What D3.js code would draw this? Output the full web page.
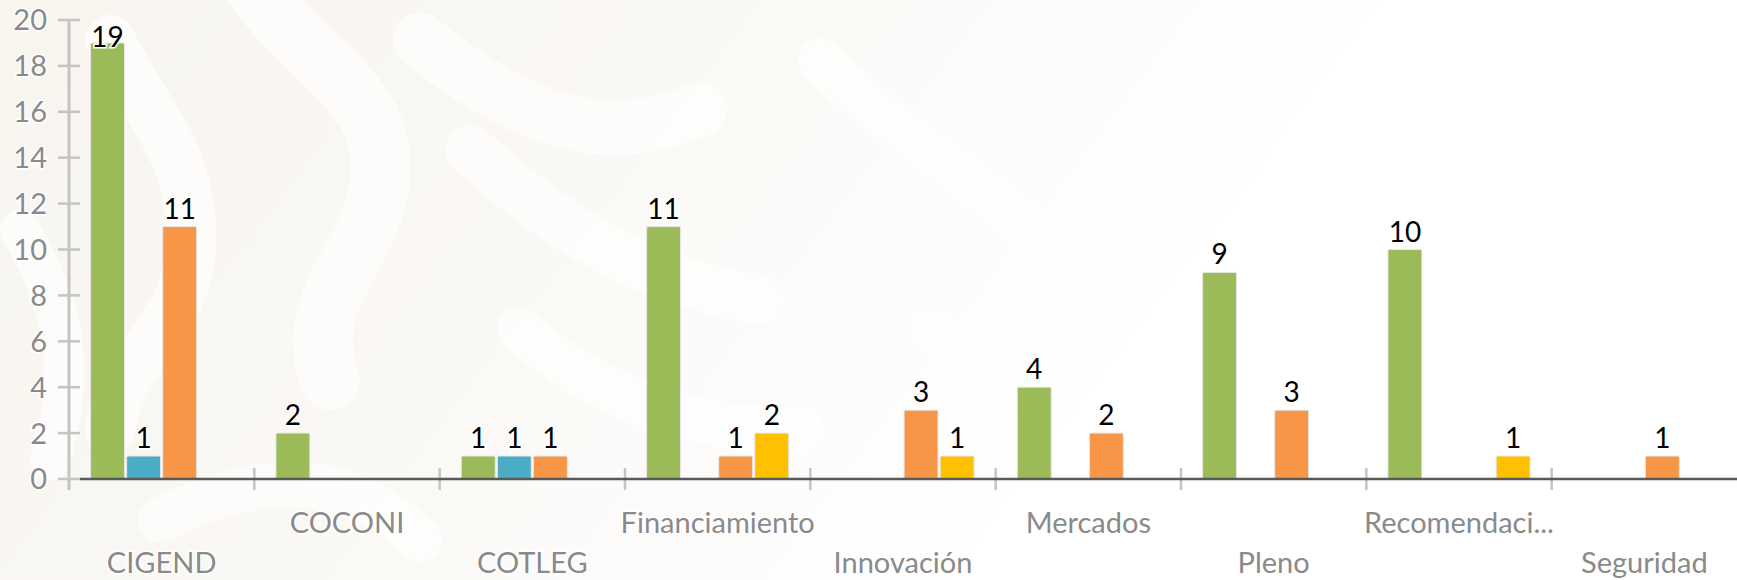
<!DOCTYPE html>
<html>
<head>
<meta charset="utf-8">
<script src="https://cdn.jsdelivr.net/npm/d3@7/dist/d3.min.js"></script>
<style>
  html, body { margin: 0; padding: 0; background: #ffffff; }
  svg { display: block; }
</style>
</head>
<body>
<svg id="chart" width="1737" height="580"></svg>
<script>
// ---- data ----
const categories = ["CIGEND", "COCONI", "COTLEG", "Financiamiento", "Innovación", "Mercados", "Pleno", "Recomendaci...", "Seguridad"];
const seriesNames = ["Serie 1", "Serie 2", "Serie 3", "Serie 4"];
const seriesGreen  = [19, 2, 1, 11, 0, 4, 9, 10, 0];
const seriesBlue   = [1, 0, 1, 0, 0, 0, 0, 0, 0];
const seriesOrange = [11, 0, 1, 1, 3, 2, 3, 0, 1];
const seriesYellow = [0, 0, 0, 2, 1, 0, 0, 1, 0];
const seriesColors = ["#9BBB59", "#4BACC6", "#F79646", "#FFC000"];
const yTicks = [0, 2, 4, 6, 8, 10, 12, 14, 16, 18, 20];

const allSeries = [seriesGreen, seriesBlue, seriesOrange, seriesYellow];

// ---- layout ----
const W = 1737, H = 580;
const margin = { left: 69, right: 0, top: 20, bottom: 101 };
const svg = d3.select("#chart");

// background: beige fading to white, with soft white watermark strokes
const defs = svg.append("defs");
const grad = defs.append("linearGradient").attr("id", "bg").attr("x1", "0").attr("x2", "1").attr("y1", "0").attr("y2", "0.25");
grad.append("stop").attr("offset", "0").attr("stop-color", "#f8f5ef");
grad.append("stop").attr("offset", "0.35").attr("stop-color", "#faf8f4");
grad.append("stop").attr("offset", "0.6").attr("stop-color", "#fdfcfb");
grad.append("stop").attr("offset", "0.75").attr("stop-color", "#ffffff");
svg.append("rect").attr("width", W).attr("height", H).attr("fill", "url(#bg)");

const wm = svg.append("g").attr("fill", "none").attr("stroke", "#ffffff").attr("stroke-linecap", "round").attr("opacity", 0.7);
const wmPaths = [
  ["M 250 -20 C 300 60, 390 90, 380 180 C 370 260, 300 300, 330 380", 60],
  ["M 420 40 C 520 120, 600 150, 700 110", 55],
  ["M 110 40 C 150 120, 200 160, 190 260 C 180 330, 120 360, 110 430", 50],
  ["M 470 150 C 560 230, 640 280, 760 300", 50],
  ["M 20 230 C 60 300, 80 360, 50 460", 40],
  ["M 520 330 C 600 400, 690 430, 800 430", 45],
  ["M 820 60 C 900 140, 980 180, 1040 240", 45],
  ["M 160 520 C 260 470, 350 470, 420 540", 45],
  ["M 930 330 C 990 380, 1030 420, 1070 500", 40]
];
wmPaths.forEach(p => wm.append("path").attr("d", p[0]).attr("stroke-width", p[1]));

// ---- scales ----
const x0 = d3.scaleBand().domain(categories).range([margin.left, W - margin.right]).paddingInner(0.21).paddingOuter(0.105);
const x1 = d3.scaleBand().domain(d3.range(allSeries.length)).range([0, x0.bandwidth()]).padding(0.06);
const y = d3.scaleLinear().domain([0, 20]).range([H - margin.bottom, margin.top]);
const y0 = y(0);

const fontFam = "Lato, 'Open Sans', sans-serif";

// y axis
const yAxisG = svg.append("g").attr("transform", `translate(${margin.left},0)`);
yAxisG.append("line").attr("x1", 0).attr("x2", 0).attr("y1", y(20)).attr("y2", y0 + 11)
  .attr("stroke", "#c4c4c4").attr("stroke-width", 3);
yAxisG.selectAll("line.tick").data(yTicks).join("line").attr("class", "tick")
  .attr("x1", -11).attr("x2", 11).attr("y1", d => y(d)).attr("y2", d => y(d))
  .attr("stroke", "#c4c4c4").attr("stroke-width", 2.5);
yAxisG.selectAll("text").data(yTicks).join("text")
  .attr("x", -22).attr("y", d => y(d)).attr("dy", "0.36em")
  .attr("text-anchor", "end")
  .attr("font-family", fontFam).attr("font-size", 29)
  .attr("fill", "#8a8a8a").attr("stroke", "#ffffff").attr("stroke-width", 3).attr("paint-order", "stroke")
  .text(d => d);

// x category ticks
const xTickPositions = categories.slice(1).map(c => x0(c) - x0.step() * x0.paddingInner() / 2);
svg.append("g").selectAll("line").data(xTickPositions).join("line")
  .attr("x1", d => d).attr("x2", d => d).attr("y1", y0 - 11).attr("y2", y0 + 11)
  .attr("stroke", "#c4c4c4").attr("stroke-width", 2.5);

// bars
const barData = [];
categories.forEach((c, ci) => {
  allSeries.forEach((s, si) => {
    if (s[ci] > 0) barData.push({ cat: c, si, v: s[ci] });
  });
});
svg.append("g").selectAll("rect").data(barData).join("rect")
  .attr("x", d => x0(d.cat) + x1(d.si))
  .attr("y", d => y(d.v))
  .attr("width", x1.bandwidth())
  .attr("height", d => y0 - y(d.v))
  .attr("rx", 1.5)
  .attr("fill", d => seriesColors[d.si])
  .attr("stroke", "#e6e6e6").attr("stroke-width", 1);

// x axis line
svg.append("line").attr("x1", margin.left + 11).attr("x2", W).attr("y1", y0).attr("y2", y0)
  .attr("stroke", "#595959").attr("stroke-width", 2.5);

// data labels
svg.append("g").selectAll("text").data(barData).join("text")
  .attr("x", d => x0(d.cat) + x1(d.si) + x1.bandwidth() / 2)
  .attr("y", d => Math.max(y(d.v) - 8, margin.top + 27))
  .attr("text-anchor", "middle")
  .attr("font-family", fontFam).attr("font-size", 28)
  .attr("fill", "#000000").attr("stroke", "#ffffff").attr("stroke-width", 3).attr("paint-order", "stroke")
  .text(d => d.v);

// category labels (staggered)
svg.append("g").selectAll("text").data(categories).join("text")
  .attr("x", d => x0(d) + x0.bandwidth() / 2)
  .attr("y", (d, i) => i % 2 === 0 ? y0 + 94 : y0 + 54)
  .attr("text-anchor", "middle")
  .attr("font-family", fontFam).attr("font-size", 29)
  .attr("fill", "#8a8a8a").attr("stroke", "#ffffff").attr("stroke-width", 3).attr("paint-order", "stroke")
  .text(d => d);
</script>
</body>
</html>
